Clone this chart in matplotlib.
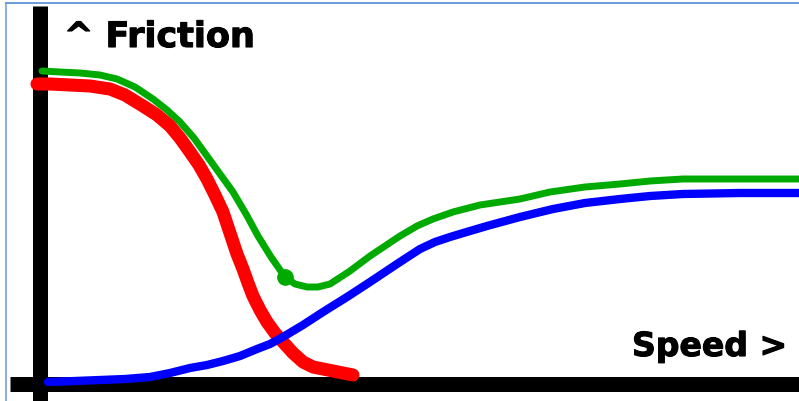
import matplotlib
matplotlib.use("Agg")
import matplotlib.pyplot as plt
import matplotlib.patheffects as pe
from matplotlib.lines import Line2D

# Sketch of friction versus sliding speed (arbitrary units, origin at the axes corner)
red_speed = [-3, 10, 30, 50, 70, 85, 103, 117, 130, 140, 150, 159, 167, 175, 183, 187,
             192, 197, 203, 208, 213, 220, 227, 235, 243, 253, 263, 273, 283, 298, 313]
red_friction = [300, 300, 299, 298, 295, 289, 278, 269, 258, 246, 232, 219, 205, 189, 172,
                160, 145, 130, 115, 101, 88, 74, 62, 51, 42, 31, 22, 17, 15, 12, 9]

green_speed = [2, 20, 40, 60, 77, 95, 113, 127, 140, 154, 167, 180, 193, 206, 218, 231,
               245, 255, 267, 278, 290, 310, 330, 345, 360, 377, 393, 413, 440, 480, 510,
               545, 580, 610, 643, 690, 743, 759]
green_friction = [313, 312, 311, 309, 305, 297, 285, 274, 262, 246, 228, 210, 192, 170, 148,
                  127, 107, 100, 97, 97, 100, 113, 128, 138, 148, 158, 165, 172, 179, 185,
                  192, 197, 200, 203, 205, 205, 205, 205]

blue_speed = [8, 35, 60, 85, 110, 130, 150, 167, 183, 200, 217, 230, 243, 263, 283, 307,
              330, 345, 360, 380, 395, 410, 430, 447, 480, 513, 545, 580, 610, 643, 700, 759]
blue_friction = [2, 3, 4, 5, 7, 11, 16, 19, 23, 28, 35, 40, 47, 59, 72, 87, 102, 112, 122,
                 135, 142, 147, 153, 158, 167, 175, 181, 185, 188, 190, 191, 191]

knee_speed = [245]
knee_friction = [107]

y_label = "^ Friction"
x_label = "Speed >"

W, H, DPI = 799, 402, 100
fig = plt.figure(figsize=(W / DPI, H / DPI), dpi=DPI)
ax = fig.add_axes([0, 0, 1, 1])
ax.set_xlim(-40, 759)
ax.set_ylim(-17, 385)

# thick black axes crossing at the origin
for side in ("top", "right"):
    ax.spines[side].set_visible(False)
for side in ("left", "bottom"):
    sp = ax.spines[side]
    sp.set_position(("data", 0))
    sp.set_linewidth(10.8)
    sp.set_color("black")
    sp.set_capstyle("butt")
ax.spines["left"].set_bounds(-17, 378)
ax.spines["bottom"].set_bounds(-30, 759)
ax.set_xticks([])
ax.set_yticks([])
ax.patch.set_visible(False)

ax.plot(green_speed, green_friction, color="#00aa00", lw=5.0,
        solid_capstyle="round", solid_joinstyle="round", zorder=3)
ax.plot(knee_speed, knee_friction, "o", color="#00aa00", ms=11, zorder=3)
ax.plot(red_speed, red_friction, color="#ff0000", lw=9.4,
        solid_capstyle="round", solid_joinstyle="round", zorder=4)
ax.plot(blue_speed, blue_friction, color="#0000ff", lw=6.0,
        solid_capstyle="round", solid_joinstyle="round", zorder=5)

heavy = [pe.withStroke(linewidth=0.8, foreground="black")]
ax.text(24, 337, y_label, fontsize=25.2, fontweight="bold", family="DejaVu Sans",
        ha="left", va="baseline", color="black", path_effects=heavy)
ax.text(592, 28, x_label, fontsize=23.8, fontweight="bold", family="DejaVu Sans",
        ha="left", va="baseline", color="black", path_effects=heavy)

# thin frame around the drawing
frame = "#6b9bd9"
fig.add_artist(Line2D([6 / W, 1], [1 - 4.3 / H, 1 - 4.3 / H], transform=fig.transFigure,
                      color=frame, lw=1.4))
fig.add_artist(Line2D([6 / W, 6 / W], [0, 1 - 4.3 / H], transform=fig.transFigure,
                      color=frame, lw=1.1))

fig.savefig("out.png", dpi=DPI, facecolor="white")
